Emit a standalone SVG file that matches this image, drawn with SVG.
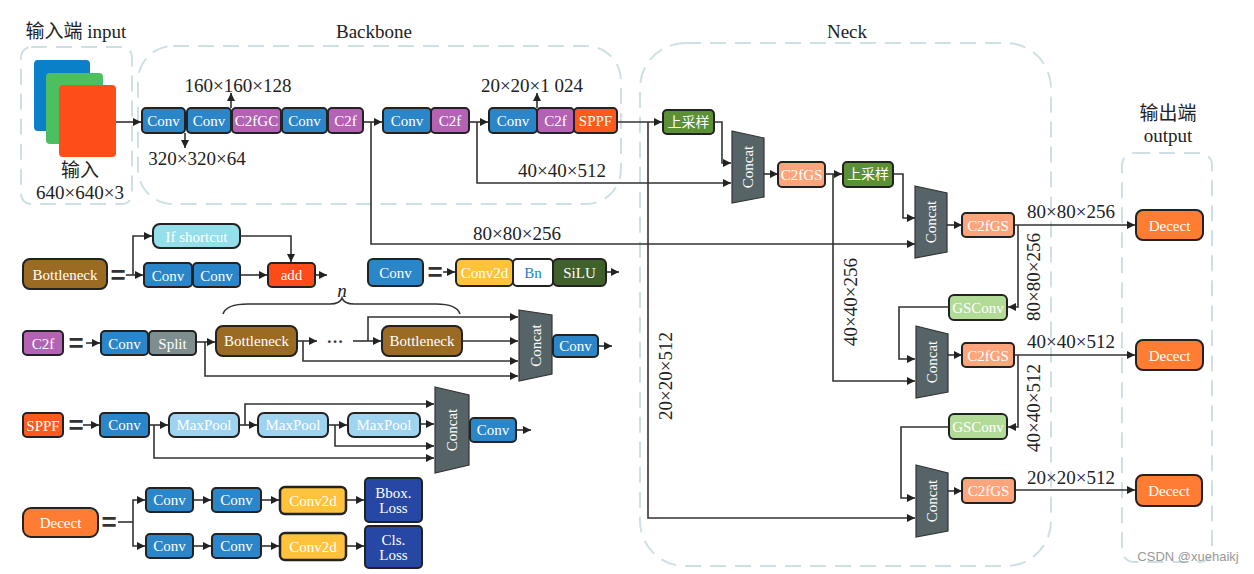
<svg xmlns="http://www.w3.org/2000/svg" width="1254" height="574" viewBox="0 0 1254 574">
<defs>
<marker id="ah" viewBox="0 0 10 10" refX="10" refY="5" markerWidth="9" markerHeight="8" markerUnits="userSpaceOnUse" orient="auto">
<path d="M0,0 L10,5 L0,10 z" fill="#222"/>
</marker>
<style>
.dash{fill:none;stroke:#cfe0e5;stroke-width:2;stroke-dasharray:16 9}
.b{stroke:#222;stroke-width:2}
.t{font-family:"Liberation Serif","Noto Sans CJK SC",serif;font-size:15px;fill:#fff;text-anchor:middle;dominant-baseline:central}
.cj{font-family:"Liberation Serif","Noto Sans CJK SC",serif;font-size:14px;fill:#fff;text-anchor:middle;dominant-baseline:central}
.d{font-family:"Liberation Serif","Noto Sans CJK SC",serif;font-size:19px;fill:#222;text-anchor:middle;dominant-baseline:central}
.eq{font-family:"Liberation Sans",sans-serif;font-size:26px;font-weight:bold;fill:#333;text-anchor:middle;dominant-baseline:central}
.ln{fill:none;stroke:#333;stroke-width:1.6}
.ar{fill:none;stroke:#333;stroke-width:1.6;marker-end:url(#ah)}
.conv{fill:#2b86c9}
.c2f{fill:#b462b4}
.sppf{fill:#ff5a1e}
.up{fill:#5b9035}
.gs{fill:#fca47c}
.gsc{fill:#b3db98}
.cat{fill:#566468;stroke:#333;stroke-width:1.2}
.dec{fill:#ff7d33}
.bot{fill:#9b6b24}
.ifs{fill:#94dfe9}
.add{fill:#ff4b1a}
.c2d{fill:#ffc23d}
.silu{fill:#40602c}
.split{fill:#7e8e8e}
.mp{fill:#9fd4f0}
.loss{fill:#2647a3}
</style>
</defs>
<rect width="1254" height="574" fill="#fff"/>

<!-- containers -->
<g id="containers">
<rect class="dash" x="21" y="47" width="111" height="157" rx="10"/>
<rect class="dash" x="138" y="46" width="483" height="158" rx="35"/>
<rect class="dash" x="640" y="43" width="411" height="523" rx="45"/>
<rect class="dash" x="1122" y="153" width="90" height="409" rx="12"/>
<text class="d" x="76" y="31">输入端 input</text>
<text class="d" x="374" y="31">Backbone</text>
<text class="d" x="847" y="31">Neck</text>
<text class="d" x="1168" y="113">输出端</text>
<text class="d" x="1168" y="135">output</text>
</g>

<!-- input -->
<g id="input">
<rect x="34" y="60" width="56" height="71" rx="4" fill="#0a80c8"/>
<rect x="46" y="73" width="57" height="71" rx="4" fill="#4cbf60"/>
<rect x="59" y="85" width="57" height="72" rx="4" fill="#ff4d1a"/>
<text class="d" x="80" y="170">输入</text>
<text class="d" x="80" y="192">640×640×3</text>
</g>

<!-- connectors -->
<g id="connectors">
<path class="ar" d="M116,122 H141"/>
<path class="ar" d="M231,108 V93"/>
<path class="ar" d="M185,133 V148"/>
<path class="ar" d="M363,122 H382"/>
<path class="ar" d="M371,122 V244 H915"/>
<path class="ar" d="M469,122 H488"/>
<path class="ar" d="M477,122 V183 H731"/>
<path class="ar" d="M537,108 V93"/>
<path class="ar" d="M617,122 H662"/>
<path class="ar" d="M648,122 V518 H915"/>
<path class="ar" d="M714,122 H722 V163 H731"/>
<path class="ar" d="M764,174 H778"/>
<path class="ar" d="M825,174 H842"/>
<path class="ar" d="M833,174 V381 H915"/>
<path class="ar" d="M893,174 H903 V218 H915"/>
<path class="ar" d="M947,225 H962"/>
<path class="ar" d="M1014,225 H1135"/>
<path class="ar" d="M1018,225 V307 H1008"/>
<path class="ar" d="M949,307 H899 V359 H915"/>
<path class="ar" d="M948,355 H962"/>
<path class="ar" d="M1014,355 H1135"/>
<path class="ar" d="M1018,355 V427 H1008"/>
<path class="ar" d="M949,427 H901 V498 H915"/>
<path class="ar" d="M948,491 H962"/>
<path class="ar" d="M1015,490 H1135"/>
<!-- bottleneck legend -->
<path class="ar" d="M126,275 H143"/>
<path class="ar" d="M133,275 V236 H152"/>
<path class="ar" d="M240,275 H267"/>
<path class="ar" d="M240,236 H291 V262"/>
<path class="ar" d="M315,275 H327"/>
<!-- conv legend -->
<path class="ar" d="M443,272 H455"/>
<path class="ar" d="M606,272 H619"/>
<!-- c2f legend -->
<path class="ar" d="M86,343 H100"/>
<path class="ar" d="M196,342 H215"/>
<path class="ar" d="M205,342 V376 H518"/>
<path class="ar" d="M297,341 H317"/>
<path class="ar" d="M303,341 V361 H518"/>
<path class="ar" d="M353,341 H381"/>
<path class="ar" d="M368,341 V317 H518"/>
<path class="ar" d="M462,341 H518"/>
<path class="ar" d="M598,346 H612"/>
<path class="ln" d="M223,314 Q226,304 248,304 H330 Q340,304 342,298 Q344,304 354,304 H436 Q457,304 460,314"/>
<!-- sppf legend -->
<path class="ar" d="M83,425 H99"/>
<path class="ar" d="M149,425 H168"/>
<path class="ar" d="M154,425 V458 H434"/>
<path class="ar" d="M239,425 H257"/>
<path class="ar" d="M245,425 V404 H434"/>
<path class="ar" d="M328,425 H347"/>
<path class="ar" d="M335,425 V446 H434"/>
<path class="ar" d="M420,424 H434"/>
<path class="ar" d="M516,430 H531"/>
<!-- decect legend -->
<path class="ln" d="M118,522 H133"/>
<path class="ar" d="M133,522 V500 H145"/>
<path class="ar" d="M133,522 V546 H145"/>
<path class="ar" d="M193,500 H211"/>
<path class="ar" d="M261,500 H279"/>
<path class="ar" d="M346,500 H364"/>
<path class="ar" d="M193,546 H211"/>
<path class="ar" d="M261,546 H279"/>
<path class="ar" d="M346,546 H364"/>
</g>

<!-- dimension labels -->
<g id="labels">
<text class="d" x="238" y="85">160×160×128</text>
<text class="d" x="197" y="158">320×320×64</text>
<text class="d" x="532" y="85">20×20×1 024</text>
<text class="d" x="562" y="170">40×40×512</text>
<text class="d" x="517" y="233">80×80×256</text>
<text class="d" x="1071" y="211">80×80×256</text>
<text class="d" x="1071" y="341">40×40×512</text>
<text class="d" x="1071" y="477">20×20×512</text>
<text class="d" transform="translate(665,376) rotate(-90)">20×20×512</text>
<text class="d" transform="translate(850,302) rotate(-90)">40×40×256</text>
<text class="d" transform="translate(1033,277) rotate(-90)">80×80×256</text>
<text class="d" transform="translate(1033,408) rotate(-90)">40×40×512</text>
</g>

<!-- backbone nodes -->
<g id="bb-conv1"><rect class="b conv" x="142" y="108" width="43" height="25" rx="4"/><text class="t" x="163.5" y="121">Conv</text></g>
<g id="bb-conv2"><rect class="b conv" x="187" y="108" width="44" height="25" rx="4"/><text class="t" x="209" y="121">Conv</text></g>
<g id="bb-c2fgc"><rect class="b c2f" x="232" y="108" width="49" height="25" rx="4"/><text class="t" x="256.5" y="121">C2fGC</text></g>
<g id="bb-conv3"><rect class="b conv" x="282" y="108" width="45" height="25" rx="4"/><text class="t" x="304.5" y="121">Conv</text></g>
<g id="bb-c2f1"><rect class="b c2f" x="328" y="108" width="35" height="25" rx="4"/><text class="t" x="345.5" y="121">C2f</text></g>
<g id="bb-conv4"><rect class="b conv" x="383" y="108" width="48" height="25" rx="4"/><text class="t" x="407" y="121">Conv</text></g>
<g id="bb-c2f2"><rect class="b c2f" x="431" y="108" width="38" height="25" rx="4"/><text class="t" x="450" y="121">C2f</text></g>
<g id="bb-conv5"><rect class="b conv" x="489" y="108" width="48" height="25" rx="4"/><text class="t" x="513" y="121">Conv</text></g>
<g id="bb-c2f3"><rect class="b c2f" x="537" y="108" width="37" height="25" rx="4"/><text class="t" x="555.5" y="121">C2f</text></g>
<g id="bb-sppf"><rect class="b sppf" x="574" y="108" width="43" height="25" rx="4"/><text class="t" x="595.5" y="121">SPPF</text></g>

<!-- neck nodes -->
<g id="nk-up1"><rect class="b up" x="663" y="110" width="51" height="24" rx="4"/><text class="cj" x="688.5" y="122">上采样</text></g>
<g id="nk-concat1"><polygon class="cat" points="732,131 764,138 764,197 732,203"/><text class="t" transform="translate(748,167) rotate(-90)">Concat</text></g>
<g id="nk-c2fgs1"><rect class="b gs" x="778" y="162" width="47" height="25" rx="4"/><text class="t" x="801.5" y="175">C2fGS</text></g>
<g id="nk-up2"><rect class="b up" x="843" y="162" width="50" height="25" rx="4"/><text class="cj" x="868" y="174.5">上采样</text></g>
<g id="nk-concat2"><polygon class="cat" points="915,186 947,193 947,252 915,258"/><text class="t" transform="translate(931,222) rotate(-90)">Concat</text></g>
<g id="nk-c2fgs2"><rect class="b gs" x="962" y="213" width="52" height="24" rx="4"/><text class="t" x="988" y="225.5">C2fGS</text></g>
<g id="nk-gsconv1"><rect class="b gsc" x="949" y="295" width="58" height="25" rx="5"/><text class="t" x="978" y="308">GSConv</text></g>
<g id="nk-concat3"><polygon class="cat" points="916,326 948,334 948,392 916,398"/><text class="t" transform="translate(932,362) rotate(-90)">Concat</text></g>
<g id="nk-c2fgs3"><rect class="b gs" x="962" y="343" width="52" height="24" rx="4"/><text class="t" x="988" y="355.5">C2fGS</text></g>
<g id="nk-gsconv2"><rect class="b gsc" x="949" y="414" width="58" height="25" rx="5"/><text class="t" x="978" y="427">GSConv</text></g>
<g id="nk-concat4"><polygon class="cat" points="916,465 948,473 948,531 916,537"/><text class="t" transform="translate(932,501) rotate(-90)">Concat</text></g>
<g id="nk-c2fgs4"><rect class="b gs" x="962" y="478" width="53" height="25" rx="4"/><text class="t" x="988.5" y="491">C2fGS</text></g>

<!-- output nodes -->
<g id="out-decect1"><rect class="b dec" x="1136" y="210" width="67" height="30" rx="7"/><text class="t" x="1169.5" y="225.5">Decect</text></g>
<g id="out-decect2"><rect class="b dec" x="1136" y="340" width="67" height="30" rx="7"/><text class="t" x="1169.5" y="355.5">Decect</text></g>
<g id="out-decect3"><rect class="b dec" x="1136" y="475" width="66" height="31" rx="7"/><text class="t" x="1169" y="491">Decect</text></g>

<!-- legend: bottleneck -->
<g id="lg-bottleneck"><rect class="b bot" x="23" y="259" width="84" height="30" rx="7"/><text class="t" x="65" y="274.5">Bottleneck</text></g>
<text class="eq" x="118" y="275">=</text>
<g id="lg-ifshortcut"><rect class="b ifs" x="153" y="224" width="87" height="24" rx="7"/><text class="t" x="196.5" y="236.5">If shortcut</text></g>
<g id="lg-b-conv1"><rect class="b conv" x="144" y="263" width="48" height="24" rx="4"/><text class="t" x="168" y="275.5">Conv</text></g>
<g id="lg-b-conv2"><rect class="b conv" x="193" y="263" width="47" height="24" rx="4"/><text class="t" x="216.5" y="275.5">Conv</text></g>
<g id="lg-add"><rect class="b add" x="268" y="263" width="47" height="24" rx="4"/><text class="t" x="291.5" y="275">add</text></g>

<!-- legend: conv -->
<g id="lg-conv"><rect class="b conv" x="368" y="259" width="55" height="27" rx="5"/><text class="t" x="395.5" y="272.5">Conv</text></g>
<text class="eq" x="435" y="272">=</text>
<g id="lg-conv2d"><rect class="b c2d" x="456" y="259" width="57" height="27" rx="5"/><text class="t" x="484.5" y="272.5">Conv2d</text></g>
<g id="lg-bn"><rect class="b" fill="#fff" x="513" y="259" width="40" height="27" rx="4"/><text class="t" x="533" y="272.5" fill="#2080c8" style="fill:#2080c8">Bn</text></g>
<g id="lg-silu"><rect class="b silu" x="553" y="259" width="53" height="27" rx="5"/><text class="t" x="579.5" y="272.5">SiLU</text></g>

<!-- legend: c2f -->
<g id="lg-c2f"><rect class="b c2f" x="23" y="331" width="40" height="24" rx="4"/><text class="t" x="43" y="343.5">C2f</text></g>
<text class="eq" x="76" y="343">=</text>
<g id="lg-c-conv"><rect class="b conv" x="101" y="331" width="47" height="24" rx="4"/><text class="t" x="124.5" y="343.5">Conv</text></g>
<g id="lg-split"><rect class="b split" x="149" y="331" width="47" height="24" rx="4"/><text class="t" x="172.5" y="343.5">Split</text></g>
<g id="lg-bott1"><rect class="b bot" x="216" y="326" width="81" height="30" rx="7"/><text class="t" x="256.5" y="341">Bottleneck</text></g>
<text x="335" y="341" font-family="Liberation Serif, serif" font-size="17" font-weight="bold" fill="#333" text-anchor="middle" dominant-baseline="central">···</text>
<g id="lg-bott2"><rect class="b bot" x="382" y="326" width="80" height="30" rx="7"/><text class="t" x="422" y="341">Bottleneck</text></g>
<text x="342" y="290" font-family="Liberation Serif, serif" font-size="19" font-style="italic" fill="#222" text-anchor="middle" dominant-baseline="central">n</text>
<g id="lg-c-concat"><polygon class="cat" points="519,310 552,315 552,374 519,381"/><text class="t" transform="translate(535.5,345.5) rotate(-90)">Concat</text></g>
<g id="lg-c-conv2"><rect class="b conv" x="553" y="335" width="45" height="22" rx="4"/><text class="t" x="575.5" y="346">Conv</text></g>

<!-- legend: sppf -->
<g id="lg-sppf"><rect class="b sppf" x="23" y="413" width="40" height="24" rx="4"/><text class="t" x="43" y="425.5">SPPF</text></g>
<text class="eq" x="76" y="425">=</text>
<g id="lg-s-conv"><rect class="b conv" x="100" y="413" width="49" height="24" rx="4"/><text class="t" x="124.5" y="424.5">Conv</text></g>
<g id="lg-mp1"><rect class="b mp" x="169" y="413" width="70" height="24" rx="6"/><text class="t" x="204" y="425">MaxPool</text></g>
<g id="lg-mp2"><rect class="b mp" x="258" y="413" width="70" height="24" rx="6"/><text class="t" x="293" y="425">MaxPool</text></g>
<g id="lg-mp3"><rect class="b mp" x="348" y="413" width="72" height="24" rx="6"/><text class="t" x="384" y="425">MaxPool</text></g>
<g id="lg-s-concat"><polygon class="cat" points="435,387 469,395 469,465 435,473"/><text class="t" transform="translate(452,430) rotate(-90)">Concat</text></g>
<g id="lg-s-conv2"><rect class="b conv" x="470" y="418" width="46" height="24" rx="4"/><text class="t" x="493" y="430">Conv</text></g>

<!-- legend: decect -->
<g id="lg-decect"><rect class="b dec" x="23" y="508" width="75" height="29" rx="8"/><text class="t" x="60.5" y="522.5">Decect</text></g>
<text class="eq" x="109" y="522">=</text>
<g id="lg-d-conv1"><rect class="b conv" x="146" y="488" width="47" height="24" rx="4"/><text class="t" x="169.5" y="500">Conv</text></g>
<g id="lg-d-conv2"><rect class="b conv" x="212" y="488" width="49" height="24" rx="4"/><text class="t" x="236.5" y="500">Conv</text></g>
<g id="lg-d-conv2d1"><rect class="b c2d" x="280" y="487" width="66" height="27" rx="5" style="stroke-width:2.5"/><text class="t" x="313" y="500.5">Conv2d</text></g>
<g id="lg-bbox"><rect class="b loss" x="365" y="478" width="57" height="44" rx="4"/><text class="t" x="393.5" y="493">Bbox.</text><text class="t" x="393.5" y="508">Loss</text></g>
<g id="lg-d-conv3"><rect class="b conv" x="146" y="534" width="47" height="24" rx="4"/><text class="t" x="169.5" y="546">Conv</text></g>
<g id="lg-d-conv4"><rect class="b conv" x="212" y="534" width="49" height="24" rx="4"/><text class="t" x="236.5" y="546">Conv</text></g>
<g id="lg-d-conv2d2"><rect class="b c2d" x="280" y="533" width="66" height="27" rx="5" style="stroke-width:2.5"/><text class="t" x="313" y="546.5">Conv2d</text></g>
<g id="lg-cls"><rect class="b loss" x="365" y="526" width="57" height="42" rx="4"/><text class="t" x="393.5" y="540">Cls.</text><text class="t" x="393.5" y="555">Loss</text></g>

<text x="1188" y="556" font-family="Liberation Sans, sans-serif" font-size="13" fill="#999" text-anchor="middle" dominant-baseline="central">CSDN @xuehaikj</text>
</svg>
